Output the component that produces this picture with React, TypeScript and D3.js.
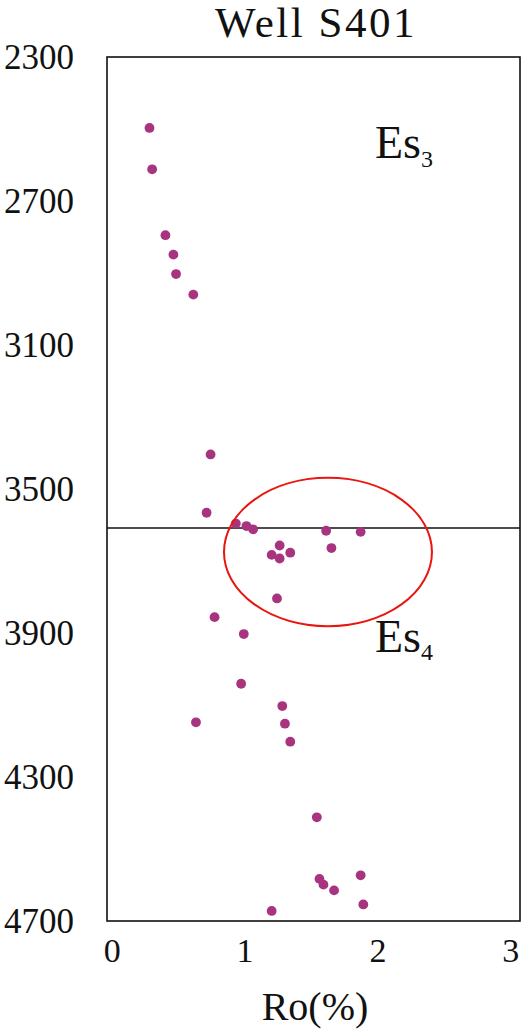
import React from "react";
import * as d3 from "d3";

// vitrinite reflectance samples, Well S401
const ro = [
  0.28, 0.30, 0.40, 0.46, 0.48, 0.61, 0.74, 0.71, 0.93, 1.01, 1.06, 1.61, 1.87,
  1.26, 1.34, 1.20, 1.26, 1.65, 1.24, 0.77, 0.99, 0.97, 1.28, 0.63, 1.30, 1.34,
  1.54, 1.56, 1.59, 1.67, 1.87, 1.89, 1.20
];
const depth = [
  2497, 2612, 2795, 2849, 2903, 2960, 3404, 3566, 3596, 3603, 3612, 3616, 3619,
  3657, 3677, 3683, 3693, 3664, 3804, 3856, 3903, 4041, 4103, 4148, 4152, 4202,
  4412, 4583, 4599, 4615, 4573, 4654, 4672
];
const xTicks = [0, 1, 2, 3];
const yTicks = [2300, 2700, 3100, 3500, 3900, 4300, 4700];
const boundaryDepth = 3608;
// highlighted zone: centre (ro, depth) and half-axes
const zone = { ro: 1.624, depth: 3675, rRo: 0.783, rDepth: 206 };

const font = "Liberation Serif, DejaVu Serif, serif";

export default function App() {
  const w = 526,
    h = 1031;

  const x = d3.scaleLinear().domain([-0.04, 3.07]).range([107, 520]);
  const y = d3.scaleLinear().domain([2300, 4700]).range([57, 921]);

  const [x0, x1] = x.range();
  const [y0, y1] = y.range();

  const points = ro.map((d, i) => (
    <circle key={i} cx={x(d)} cy={y(depth[i])} r={4.9} fill="#a8347f" />
  ));

  const yLabels = yTicks.map((d, i) => (
    <text
      key={i}
      x={74}
      y={y(d)}
      dy="0.35em"
      textAnchor="end"
      fontSize={35}
    >
      {d}
    </text>
  ));

  const xLabels = xTicks.map((d, i) => (
    <text key={i} x={x(d)} y={962} textAnchor="middle" fontSize={34}>
      {d}
    </text>
  ));

  return (
    <svg
      width={w}
      height={h}
      style={{
        position: "absolute",
        left: 0,
        top: 0,
        background: "#fff",
        fontFamily: font
      }}
      fill="#111"
    >
      <text
        x={316}
        y={37}
        textAnchor="middle"
        fontSize={43}
        letterSpacing={2.5}
      >
        Well S401
      </text>
      <rect
        x={x0}
        y={y0}
        width={x1 - x0}
        height={y1 - y0}
        fill="none"
        stroke="#111"
        strokeWidth={1.6}
      />
      <line
        x1={x0}
        x2={x1}
        y1={y(boundaryDepth)}
        y2={y(boundaryDepth)}
        stroke="#111"
        strokeWidth={1.5}
      />
      {points}
      <ellipse
        cx={x(zone.ro)}
        cy={y(zone.depth)}
        rx={x(zone.ro + zone.rRo) - x(zone.ro)}
        ry={y(zone.depth + zone.rDepth) - y(zone.depth)}
        fill="none"
        stroke="#e8160e"
        strokeWidth={2}
      />
      <text x={375} y={158} fontSize={46}>
        Es<tspan fontSize={24} dy={9}>3</tspan>
      </text>
      <text x={375} y={652} fontSize={46}>
        Es<tspan fontSize={24} dy={8}>4</tspan>
      </text>
      {yLabels}
      {xLabels}
      <text x={315} y={1020} textAnchor="middle" fontSize={40}>
        Ro(%)
      </text>
    </svg>
  );
}
